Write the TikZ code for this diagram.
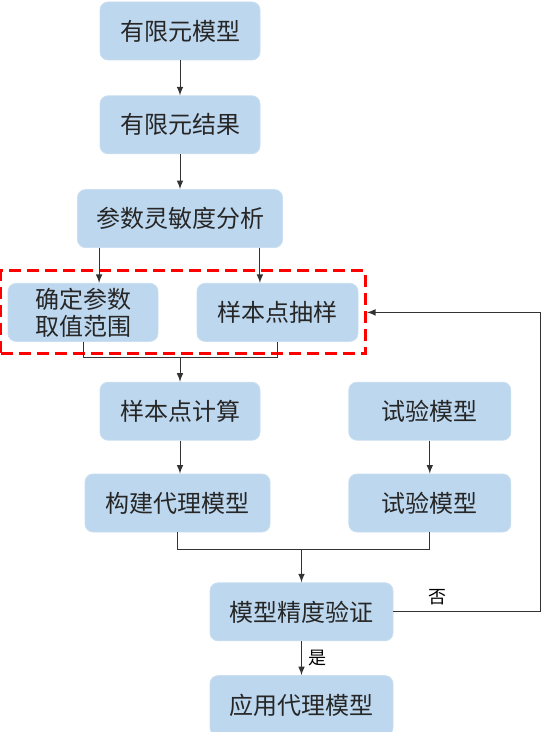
\documentclass[tikz,border=0pt]{standalone}
\usepackage{fontspec}
\newfontfamily\cjk{Noto Sans CJK SC}
\usetikzlibrary{
  calc,
  fit,
  positioning,
  arrows
}
\definecolor{boxblue}{HTML}{BDD7EE}
\definecolor{linegray}{HTML}{333333}
\tikzset{
  stepbox/.style={rectangle,rounded corners=4pt,fill=boxblue,draw=boxblue!80!white,text=black!85,
    align=center,minimum height=29pt,font=\cjk\fontsize{12}{14}\selectfont,inner sep=2pt},
  conn/.style={draw=linegray,line width=0.5pt},
  redbox/.style={draw=red,dashed,line width=1.5pt,dash pattern=on 6pt off 3pt,rectangle}
}
\begin{document}
\begin{tikzpicture}[node distance=17.5pt,>=latex]
	\useasboundingbox (0,0) rectangle (270.5pt,-366pt);
	\node[stepbox,minimum width=80pt] (fem) at (90pt,-15.5pt) {有限元模型};
	\node[stepbox,minimum width=80pt,below = of fem] (res) {有限元结果};
	\node[stepbox,minimum width=102.5pt,below = of res] (sens) {参数灵敏度分析};
	\node[stepbox,minimum width=75pt,below = of sens,xshift=-48.5pt,inner ysep=0pt,font=\cjk\fontsize{12}{13.5}\selectfont] (range) {确定参数\\取值范围};
	\node[stepbox,minimum width=80.5pt,below = of sens,xshift=48.75pt] (samp) {样本点抽样};
	\node[redbox,fit=(range)(samp),inner xsep=3.5pt,inner ysep=6pt] (grp) {};
	\node[stepbox,minimum width=80pt,below = 20pt of range,xshift=48.5pt] (calc) {样本点计算};
	\node[stepbox,minimum width=81pt,right = 44pt of calc] (test1) {试验模型};
	\node[stepbox,minimum width=92.5pt,below = 16.5pt of calc,xshift=-1.25pt] (surr) {构建代理模型};
	\node[stepbox,minimum width=81pt,below = 16.5pt of test1] (test2) {试验模型};
	\node[stepbox,minimum width=91.5pt,below = 25pt of surr,xshift=62pt] (check) {模型精度验证};
	\node[stepbox,minimum width=91.5pt,minimum height=30pt,below = 17pt of check] (apply) {应用代理模型};

	\coordinate (a1) at ($(sens.south west)+(11pt,0)$);
	\coordinate (a2) at ($(sens.south east)+(-11.5pt,0)$);
	\coordinate (m1) at ($(range.south)+(0,-8pt)$);
	\coordinate (m2) at ($(surr.south)+(0,-8.5pt)$);
	\coordinate (fb) at ($(check.east)+(73.5pt,0)$);

	\draw [conn,->] (fem) -- (res);
	\draw [conn,->] (res) -- (sens);
	\draw [conn,->] (a1) -- (a1 |- range.north);
	\draw [conn,->] (a2) -- (a2 |- samp.north);
	\draw [conn] (range.south) |- (m1) -| (samp.south);
	\draw [conn,->] (calc.north |- m1) -- (calc);
	\draw [conn,->] (calc) -- (calc |- surr.north);
	\draw [conn,->] (test1) -- (test2);
	\draw [conn] (surr.south) |- (m2) -| (test2.south);
	\draw [conn,->] (check.north |- m2) -- (check);
	\draw [conn,->] (check) -- node[right,font=\cjk\fontsize{9}{10}\selectfont] {是} (apply);
	\draw [conn,->] (check.east) -- node[above,pos=0.3,font=\cjk\fontsize{9}{10}\selectfont] {否} (fb) |- (grp.east);
\end{tikzpicture}
\end{document}
